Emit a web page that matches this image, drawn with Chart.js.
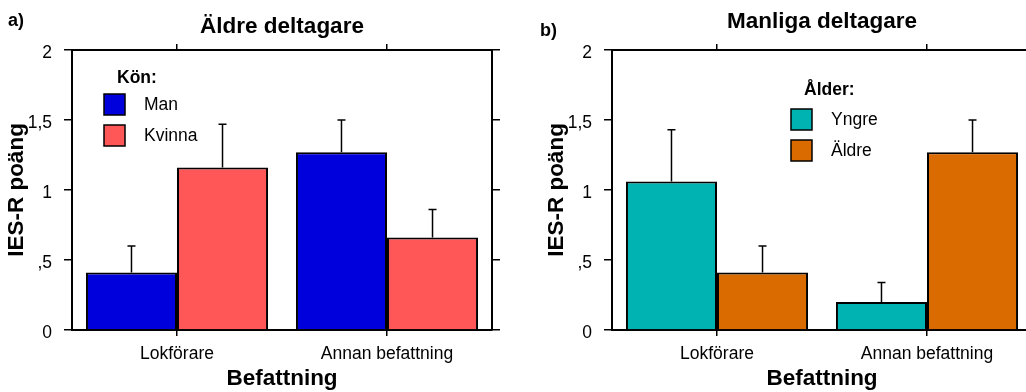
<!DOCTYPE html>
<html>
<head>
<meta charset="utf-8">
<script src="https://cdn.jsdelivr.net/npm/chart.js@4.4.1/dist/chart.umd.min.js"></script>
<style>
  body { margin: 0; width: 1026px; height: 392px; overflow: hidden; background: #fff; position: relative; font-family: "Liberation Sans", Arial, sans-serif; }
  .panel { position: absolute; top: 0; width: 540px; height: 392px; }
  .tag { position: absolute; font-weight: bold; font-size: 18px; color: #000; }
</style>
</head>
<body>
<div class="panel" style="left:0"><canvas id="graf_a" width="540" height="392"></canvas></div>
<div class="panel" style="left:540px"><canvas id="graf_b" width="540" height="392"></canvas></div>
<div class="tag" style="left:8px; top:10px">a)</div>
<div class="tag" style="left:540px; top:20px">b)</div>

<script>
// Kategorier och värden (IES-R poäng, medelvärde + övre felstapel)
var befattning = ['Lokförare', 'Annan befattning'];
var y_ticks = [0, 0.5, 1, 1.5, 2];

var man = [0.41, 1.27];
var man_fel = [0.60, 1.50];
var kvinna = [1.16, 0.66];
var kvinna_fel = [1.47, 0.86];

var yngre = [1.06, 0.20];
var yngre_fel = [1.43, 0.34];
var aldre = [0.41, 1.27];
var aldre_fel = [0.60, 1.50];

var FONT = '"Liberation Sans", Arial, sans-serif';

// felstaplar ritas uppåt från stapelns topp
var felstaplar = {
    id: 'felstaplar',
    afterDatasetsDraw: function (chart) {
        var ctx = chart.ctx;
        var y = chart.scales.y;
        chart.data.datasets.forEach(function (ds, i) {
            chart.getDatasetMeta(i).data.forEach(function (bar, j) {
                var topp = y.getPixelForValue(ds.fel[j]);
                ctx.save();
                ctx.strokeStyle = '#000';
                ctx.lineWidth = 1.5;
                ctx.beginPath();
                ctx.moveTo(bar.x, bar.y);
                ctx.lineTo(bar.x, topp);
                ctx.moveTo(bar.x - 4, topp);
                ctx.lineTo(bar.x + 4, topp);
                ctx.stroke();
                ctx.restore();
            });
        });
    }
};

// förklaring inne i diagramytan
var rutaLegend = {
    id: 'rutaLegend',
    afterDraw: function (chart, args, opts) {
        var ctx = chart.ctx;
        var x0 = chart.chartArea.left + opts.x;
        var y0 = chart.chartArea.top + opts.y;
        ctx.save();
        ctx.fillStyle = '#000';
        ctx.textBaseline = 'middle';
        ctx.textAlign = 'left';
        ctx.font = 'bold 17.5px ' + FONT;
        ctx.fillText(opts.titel, x0 + 13, y0 - opts.titelAvst);
        chart.data.datasets.forEach(function (ds, i) {
            var by = y0 + i * 31;
            ctx.fillStyle = ds.backgroundColor;
            ctx.fillRect(x0, by, 21, 21);
            ctx.strokeStyle = '#000';
            ctx.lineWidth = 1.5;
            ctx.strokeRect(x0, by, 21, 21);
            ctx.fillStyle = '#000';
            ctx.font = '17.5px ' + FONT;
            ctx.fillText(ds.label, x0 + 40, by + 11);
        });
        ctx.restore();
    }
};

function tickText(v) {
    if (v === 0) return '0';
    return String(v).replace('0.', ',').replace('.', ',');
}

function skapaConfig(titel, titelPad, datasets, legend) {
    var axelGrid = { drawOnChartArea: false, drawTicks: true, color: '#000', lineWidth: 1.5 };
    return {
        type: 'bar',
        data: { labels: befattning, datasets: datasets },
        options: {
            responsive: false,
            animation: false,
            layout: { padding: 0, autoPadding: false },
            datasets: { bar: { categoryPercentage: 0.867, barPercentage: 1, borderColor: '#000', borderWidth: 2 } },
            scales: {
                x: {
                    position: 'bottom',
                    offset: true,
                    grid: Object.assign({ offset: false, tickLength: 6 }, axelGrid),
                    border: { color: '#000', width: 2 },
                    ticks: { color: '#000', font: { family: FONT, size: 17.5 }, padding: 8, maxRotation: 0, autoSkip: false },
                    title: { display: true, text: 'Befattning', color: '#000', font: { family: FONT, size: 22.5, weight: 'bold' }, padding: 0 },
                    afterFit: function (s) { s.height = 62; }
                },
                x2: {
                    type: 'category',
                    position: 'top',
                    offset: true,
                    grid: Object.assign({ offset: false, tickLength: 6 }, axelGrid),
                    border: { color: '#000', width: 2 },
                    ticks: { display: false },
                    afterFit: function (s) { s.height = 6; }
                },
                y: {
                    position: 'left',
                    min: 0, max: 2,
                    afterBuildTicks: function (s) { s.ticks = y_ticks.map(function (v) { return { value: v }; }); },
                    grid: Object.assign({ tickLength: 8 }, axelGrid),
                    border: { color: '#000', width: 2 },
                    ticks: { color: '#000', font: { family: FONT, size: 17.5 }, padding: 12, labelOffset: 3, callback: tickText },
                    title: { display: true, text: 'IES-R poäng', color: '#000', font: { family: FONT, size: 22.5, weight: 'bold' }, padding: { top: 3.5 } },
                    afterFit: function (s) { s.width = 72; }
                },
                y2: {
                    position: 'right',
                    min: 0, max: 2,
                    afterBuildTicks: function (s) { s.ticks = y_ticks.map(function (v) { return { value: v }; }); },
                    grid: Object.assign({ tickLength: 8 }, axelGrid),
                    border: { color: '#000', width: 2 },
                    ticks: { display: false },
                    afterFit: function (s) { s.width = 48; }
                }
            },
            plugins: {
                legend: { display: false },
                tooltip: { enabled: false },
                title: {
                    display: true,
                    text: titel,
                    fullSize: false,
                    color: '#000',
                    font: { family: FONT, size: 22.5, weight: 'bold' },
                    padding: titelPad
                },
                rutaLegend: legend
            }
        },
        plugins: [felstaplar, rutaLegend]
    };
}

new Chart(document.getElementById('graf_a'), skapaConfig(
    'Äldre deltagare',
    { top: 13.5, bottom: 3.5 },
    [
        { label: 'Man', data: man, fel: man_fel, backgroundColor: '#0000dd' },
        { label: 'Kvinna', data: kvinna, fel: kvinna_fel, backgroundColor: '#ff5757' }
    ],
    { titel: 'Kön:', x: 32, y: 44, titelAvst: 16 }
));

new Chart(document.getElementById('graf_b'), skapaConfig(
    'Manliga deltagare',
    { top: 8.5, bottom: 8.5 },
    [
        { label: 'Yngre', data: yngre, fel: yngre_fel, backgroundColor: '#00b3b3' },
        { label: 'Äldre', data: aldre, fel: aldre_fel, backgroundColor: '#d96b00' }
    ],
    { titel: 'Ålder:', x: 179, y: 59, titelAvst: 19 }
));
</script>
</body>
</html>
